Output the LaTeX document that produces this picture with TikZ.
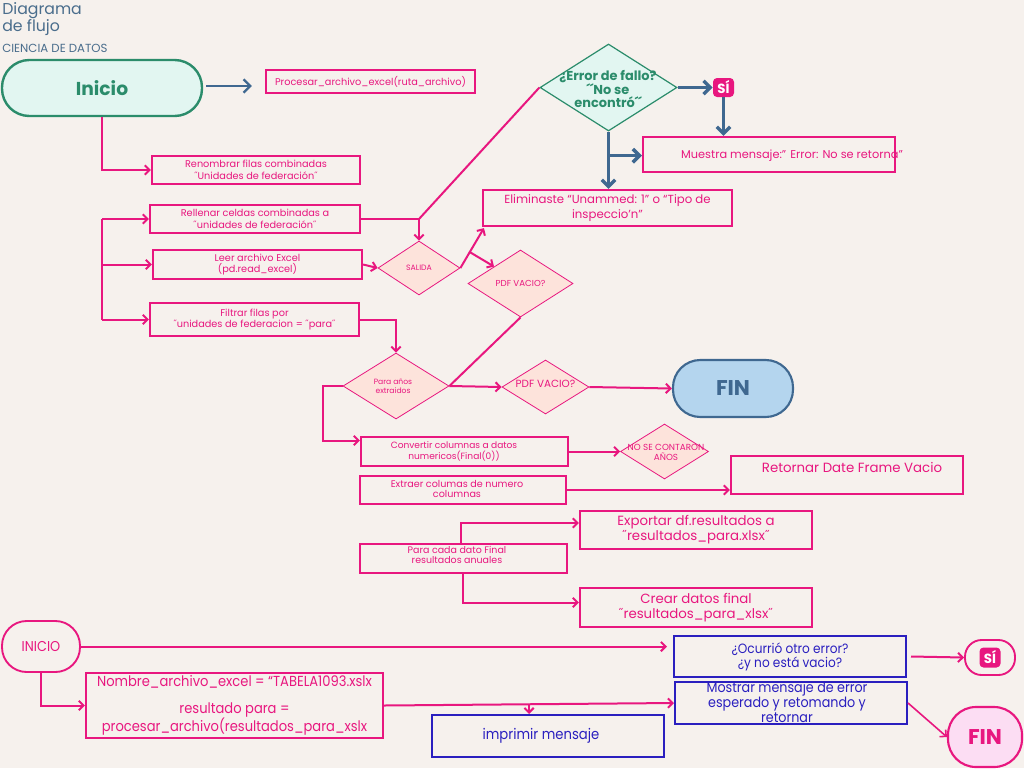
\documentclass[tikz,border=0pt]{standalone}
\usepackage{fontspec}
\setmainfont{Poppins}
\newfontfamily\condf[FakeStretch=0.9]{Poppins}
\usetikzlibrary{shapes.geometric,arrows.meta,calc}
\definecolor{bgc}{HTML}{F6F1ED}
\definecolor{pk}{HTML}{E8177F}
\definecolor{bgr}{HTML}{3F6890}
\definecolor{ttl}{HTML}{4A6D8C}
\definecolor{grn}{HTML}{2B8C6B}
\definecolor{mint}{HTML}{E2F6F1}
\definecolor{salm}{HTML}{FDE3DB}
\definecolor{lblue}{HTML}{B4D5EE}
\definecolor{ind}{HTML}{2A1FBF}
\definecolor{lpink}{HTML}{FCDDF3}
\newdimen\pxu \pxu=0.75pt
\newcommand{\fsz}[2]{\fontsize{#1pt}{#2pt}\selectfont}
\newcommand{\bx}[7]{\node[#1, minimum width={(#4-#2)*\pxu}, minimum height={(#5-#3)*\pxu}] (#6) at ({(#2+#4)/2},{(#3+#5)/2}) {#7};}
\newcommand{\dm}[6]{\node[#1, minimum width={#4*\pxu}, minimum height={#5*\pxu}] (#6) at (#2,#3) {};}
\tikzset{
  pbox/.style={draw=pk, line width=1.6pt, inner sep=0pt, align=center, text=pk, font=\fsz{7.3}{8.6}},
  ibox/.style={draw=ind, line width=1.5pt, inner sep=0pt, align=center, text=ind, font=\condf\fsz{10.1}{10.5}},
  dia/.style={diamond, draw=pk, line width=0.6pt, fill=salm, inner sep=0pt},
  dtext/.style={text=pk, align=center, inner sep=0pt},
  pl/.style={draw=pk, line width=1.5pt},
  pa/.style={pl, -{Straight Barb[length=3.5pt,width=7pt]}},
  ba/.style={draw=bgr, line width=2.6pt, -{Straight Barb[length=5pt,width=10pt]}},
  sibox/.style={fill=pk, rounded corners=3pt, minimum width={21*\pxu}, minimum height={19*\pxu}, inner sep=0pt, text=white, font=\bfseries\fsz{10}{11}}
}
\begin{document}
\begin{tikzpicture}[x=0.75pt,y=-0.75pt]
\fill[bgc] (0,0) rectangle (1024,768);
\useasboundingbox (0,0) rectangle (1024,768);

% title
\node[anchor=base west, inner sep=0pt, text=ttl, font=\fsz{11.8}{14}] (t1) at (2,14) {Diagrama};
\node[anchor=base west, inner sep=0pt, text=ttl, font=\fsz{11.8}{14}] (t2) at (2,31) {de flujo};
\node[anchor=base west, inner sep=0pt, text=ttl, font=\fsz{8.8}{9}] (t3) at (2,52) {CIENCIA DE DATOS};

% top part
\bx{draw=grn, fill=mint, line width=1.8pt, rounded corners=20.5pt, text=grn, font=\bfseries\fsz{14}{16}}{2}{60}{202}{116}{inicio}{Inicio}
\bx{pbox}{266}{70}{475}{93}{proc}{Procesar\_archivo\_excel(ruta\_archivo)}
\bx{pbox}{152}{156}{360}{184}{renom}{Renombrar filas combinadas\\ ˝Unidades de federación˝}
\bx{pbox}{150}{205}{360}{233}{rellenar}{Rellenar celdas combinadas a\\ ˝unidades de federación˝}
\bx{pbox}{153}{250}{362}{279}{leer}{Leer archivo Excel\\(pd.read\_excel)}
\bx{pbox}{150}{303}{359}{336}{filtrar}{Filtrar filas por\\ ˝unidades de federacion = ˝para˝}
\bx{pbox, font=\fsz{8.8}{11}}{483}{190}{732}{226}{elim}{Eliminaste “Unammed: 1” o “Tipo de\\inspeccio’n”}
\bx{pbox}{643}{137}{895}{172}{muestra}{}
\node[text=pk, font=\fsz{8.5}{10}, inner sep=0pt] (muestraT) at (792,156) {Muestra mensaje:” Error: No se retorna”};

\dm{diamond, draw=grn, fill=mint, line width=0.9pt, inner sep=0pt}{608.5}{87.5}{137}{87}{error}
\node[text=grn, font=\bfseries\fsz{9.7}{9.5}, align=center, inner sep=0pt] (errorT) at (608,89) {¿Error de fallo?\\ ´´No se\\encontró´´};
\node[sibox] (si) at (723.5,87.5) {SÍ};

\dm{dia}{419}{268}{82}{54}{salida}
\node[dtext, font=\fsz{5.8}{6.5}] (salidaT) at (salida.center) {SALIDA};
\dm{dia}{520.5}{283.5}{105}{67}{pdf1}
\node[dtext, font=\fsz{6.5}{7.5}] (pdf1T) at (pdf1.center) {PDF VACIO?};
\dm{dia}{396}{386}{106}{66}{paraanos}
\node[dtext, font=\fsz{5.7}{6.6}] (paraanosT) at (393,386) {Para años\\extraidos};
\dm{dia}{545.5}{387}{87}{54}{pdf2}
\node[dtext, font=\fsz{7.8}{8.5}] (pdf2T) at (545.5,384) {PDF VACIO?};
\bx{draw=bgr, fill=lblue, line width=1.6pt, rounded corners=20.5pt, text=bgr, font=\bfseries\fsz{16}{18}}{673}{360}{793}{417}{fin}{FIN}
\dm{dia}{664.5}{451.5}{88}{55}{nose}
\node[dtext, font=\fsz{6.6}{7.4}] (noseT) at (666,452) {NO SE CONTARON\\AÑOS};

\bx{pbox}{361}{437}{568}{466}{conv}{}
\node[dtext, font=\fsz{6.8}{8.2}] (convT) at (454,451.5) {Convertir columnas a datos\\numericos(Final(0))};
\bx{pbox}{360}{476}{566}{504}{extraer}{}
\node[dtext, font=\fsz{7.2}{7.8}] (extraerT) at (457,489) {Extraer columas de numero\\columnas};
\bx{pbox}{731}{456}{963}{494}{retornar}{}
\node[text=pk, font=\fsz{10}{11}, inner sep=0pt] (retT) at (852,467) {Retornar Date Frame Vacio};
\bx{pbox}{360}{544}{567}{573}{paracada}{}
\node[dtext, font=\fsz{7.1}{7.6}] (pcT) at (457,555) {Para cada dato Final\\resultados anuales};
\bx{pbox, font=\fsz{10}{11.2}}{580}{511}{812}{549}{export}{Exportar df.resultados a\\ ˝resultados\_para.xlsx˝}
\bx{pbox, font=\fsz{10}{11.2}}{580}{588}{812}{627}{crear}{Crear datos final\\ ˝resultados\_para\_xlsx˝}

% connectors top
\draw[ba, line width=1.8pt] ([shift={(3,-2)}]inicio.east) -- ([shift={(-13,4.5)}]proc.west);
\draw[pa] (inicio.south) |- (renom.west);
\coordinate (bk) at (102,266);
\draw[pl] (bk |- rellenar.west) -- (bk |- filtrar.west);
\draw[pa] (bk |- rellenar.west) -- (rellenar.west);
\draw[pa] (bk |- leer.west) -- (leer.west);
\draw[pa] (bk |- filtrar.west) -- (filtrar.west);
\draw[pa] (rellenar.east) -| (salida.north);
\draw[pl] (salida.north |- rellenar.east) -- (error.west);
\draw[pa] (leer.east) -- (salida.west);
\draw[pa] (salida.east) -- ([shift={(2,1)}]elim.south west);
\draw[pa] ($(salida.east)!0.4!(elim.south west)$) -- (pdf1.north west);
\draw[pl] (pdf1.south) -- (paraanos.east);
\draw[pa] (filtrar.east) -| (paraanos.north);
\draw[pa] (paraanos.west) -- ++(-20,0) |- ([shift={(0,-11)}]conv.west);
\draw[pa] (paraanos.east) -- (pdf2.west);
\draw[pa] (pdf2.east) -- (fin.west);
\draw[pa] (conv.east) -- (nose.west);
\draw[pa] (extraer.east) -- (extraer.east -| retornar.west);
\draw[pa] ([shift={(-3,0)}]paracada.north) |- ([shift={(0,-7)}]export.west);
\draw[pa] ([shift={(-1,0)}]paracada.south) |- ([shift={(0,-5)}]crear.west);

\draw[ba] (error.east) -- (si.west);
\draw[ba] (si.south) -- (si.south |- muestra.north);
\draw[ba] (error.south) -- (error.south |- elim.north);
\coordinate (eb) at ($(error.south)!0.42!(error.south |- elim.north)$);
\draw[ba] (eb) -- (eb -| muestra.west);

% bottom part
\bx{draw=pk, line width=1.4pt, rounded corners=18.5pt, text=pk, font=\condf\fsz{10.7}{12}}{2}{621}{80}{672}{inicio2}{INICIO}
\bx{ibox}{674}{636}{906}{677}{ocurrio}{¿Ocurrió otro error?\\¿y no está vacio?}
\bx{draw=pk, line width=1.4pt, rounded corners=12.5pt}{965}{640}{1015}{675}{si2}{}
\node[sibox, minimum height={20*\pxu}] (si2in) at (si2.center) {SÍ};
\bx{pbox, font=\condf\fsz{10.9}{10.5}}{86}{673}{383}{738}{nombre}{Nombre\_archivo\_excel = “TABELA1093.xslx\\[9.5pt]resultado para =\\procesar\_archivo(resultados\_para\_xslx}
\bx{ibox}{675}{682}{907}{724}{mostrar}{}
\node[text=ind, font=\condf\fsz{10.6}{10}, align=center, inner sep=0pt] (mostrarT) at (787,702) {Mostrar mensaje de error\\esperado y retomando y\\retornar};
\bx{ibox}{432}{715}{664}{757}{imprimir}{}
\node[text=ind, font=\condf\fsz{11}{10.5}, inner sep=0pt] (imprimirT) at (541,736) {imprimir mensaje};
\bx{draw=pk, fill=lpink, line width=1.6pt, rounded corners=21pt, text=pk, font=\bfseries\fsz{16}{17}}{948}{707}{1022}{767}{fin2}{FIN}

\draw[pa] (inicio2.east) -- ($(inicio2.east -| ocurrio.west)+(-6,0)$);
\draw[pa] ([shift={(4,0)}]ocurrio.east) -- (si2.west);
\draw[pa] (inicio2.south) |- (nombre.west);
\draw[pa] (nombre.east) -- (mostrar.west);
\coordinate (mm) at ($(nombre.east)!0.5!(mostrar.west)$);
\draw[pa] (mm) -- (mm |- imprimir.north);
\draw[pa, line width=1.2pt] (mostrar.east) -- (fin2.west);
\end{tikzpicture}
\end{document}
